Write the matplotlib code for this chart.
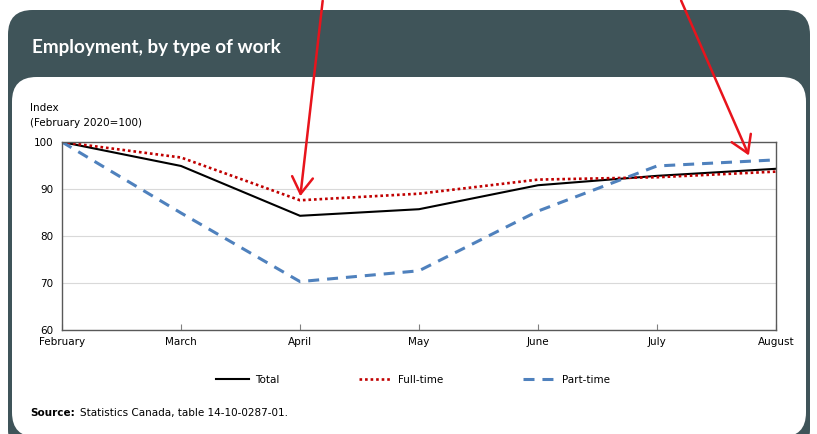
import matplotlib
matplotlib.use("Agg")
import matplotlib.pyplot as plt
from matplotlib.patches import FancyBboxPatch, FancyArrowPatch
from matplotlib.lines import Line2D

months = ["February", "March", "April", "May", "June", "July", "August"]
total = [100, 94.9, 84.3, 85.7, 90.8, 92.8, 94.3]
full_time = [100, 96.7, 87.6, 89.0, 92.0, 92.5, 93.7]
part_time = [100, 84.9, 70.3, 72.6, 85.3, 94.9, 96.2]
yticks = [60, 70, 80, 90, 100]

W, H = 817, 434
fig = plt.figure(figsize=(W / 100, H / 100), dpi=100)
fig.patch.set_facecolor("white")

def px(x, y):
    return x / W, 1 - y / H

# dark header card
dark = FancyBboxPatch((8 / W, -20 / H), (802) / W, (434 - 10 + 20) / H,
                      boxstyle="round,pad=0,rounding_size=0.03",
                      transform=fig.transFigure, facecolor="#3f5459",
                      edgecolor="none", mutation_aspect=W / H, zorder=-3)
fig.add_artist(dark)
white = FancyBboxPatch((12 / W, (434 - 437) / H), (794) / W, (437 - 77) / H,
                       boxstyle="round,pad=0,rounding_size=0.03",
                       transform=fig.transFigure, facecolor="white",
                       edgecolor="none", mutation_aspect=W / H, zorder=-2)
fig.add_artist(white)

fig.text(*px(32, 47), "Employment, by type of work", color="white",
         fontsize=13.6, fontweight="bold", family="Lato", va="center", ha="left")

ax = fig.add_axes([62 / W, (434 - 330) / H, (776 - 62) / W, (330 - 142) / H])
ax.set_facecolor("white")
x = list(range(len(months)))
ax.plot(x, total, color="black", lw=1.5, label="Total")
ax.plot(x, full_time, color="#c00000", lw=1.9, linestyle=(0, (1, 1.1)), label="Full-time")
ax.plot(x, part_time, color="#4f81bd", lw=2.2, linestyle=(0, (3.6, 2.6)), label="Part-time")

ax.set_xlim(0, len(months) - 1)
ax.set_ylim(60, 100)
ax.set_yticks(yticks)
ax.set_xticks(x)
ax.set_xticklabels(months, fontsize=7.5)
ax.tick_params(axis="y", length=0, labelsize=7.5, pad=6)
ax.tick_params(axis="x", direction="in", length=4, color="#808080", pad=5)
ax.yaxis.grid(True, color="#d9d9d9", lw=0.8)
ax.set_axisbelow(True)
for s in ax.spines.values():
    s.set_color("#595959")
    s.set_linewidth(1.0)

fig.text(*px(30, 108), "Index", fontsize=7.5, va="center", ha="left")
fig.text(*px(30, 123), "(February 2020=100)", fontsize=7.5, va="center", ha="left")

leg = fig.legend(handles=[
    Line2D([], [], color="black", lw=1.5),
    Line2D([], [], color="#c00000", lw=1.9, linestyle=(0, (1, 1.1))),
    Line2D([], [], color="#4f81bd", lw=2.2, linestyle=(0, (3.6, 2.6)))],
    labels=["Total", "Full-time", "Part-time"], loc="center",
    bbox_to_anchor=px(413, 380), ncol=3, frameon=False, fontsize=7.5,
    columnspacing=7.6, handlelength=3.2, handletextpad=0.6)

fig.text(*px(30, 413), "Source:", fontsize=7.5, fontweight="bold", va="center", ha="left")
fig.text(*px(80, 413), "Statistics Canada, table 14-10-0287-01.", fontsize=7.5,
         va="center", ha="left")

# red annotation arrows
fig.add_artist(FancyArrowPatch(
    px(323, -2), px(300, 199), transform=fig.transFigure, arrowstyle="->,head_length=8,head_width=5",
    color="#e8141c", lw=1.8, mutation_scale=1.5, zorder=10))
fig.add_artist(FancyArrowPatch(
    px(680, -2), px(750, 158), transform=fig.transFigure, arrowstyle="->,head_length=8,head_width=5",
    color="#e8141c", lw=1.8, mutation_scale=1.5, zorder=10))

fig.savefig("out.png", dpi=100)
